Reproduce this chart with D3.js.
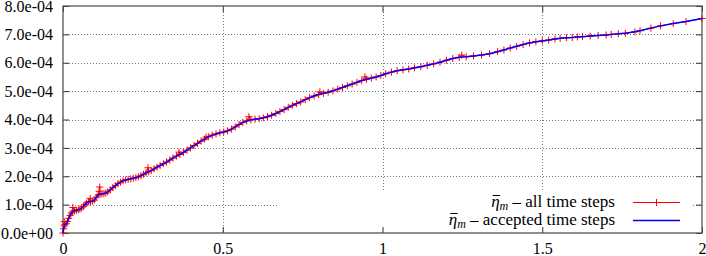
<!DOCTYPE html>
<html>
<head>
<meta charset="utf-8">
<script src="https://cdn.jsdelivr.net/npm/d3@7"></script>
<style>
  body { margin: 0; background: #fff; }
  svg text { font-family: "Liberation Serif", "DejaVu Serif", serif; fill: #000; }
</style>
</head>
<body>
<div id="graph-container"></div>
<script>
// Data (eta values in units of 1e-4)_________________________________________
const acceptedT = [0, 0.002, 0.004, 0.006, 0.010, 0.014, 0.018, 0.022, 0.026, 0.030, 0.036, 0.042, 0.048, 0.053,
  0.058, 0.064, 0.069, 0.074, 0.080, 0.086, 0.092, 0.098, 0.104, 0.110, 0.116, 0.122, 0.128, 0.134, 0.140,
  0.148, 0.156, 0.164, 0.172, 0.180, 0.188, 0.196, 0.204, 0.212, 0.220, 0.228, 0.236, 0.244, 0.252, 0.260,
  0.268, 0.276, 0.285, 0.294, 0.304, 0.314, 0.324, 0.334, 0.344, 0.355, 0.366, 0.377, 0.388, 0.399, 0.410,
  0.421, 0.432, 0.443, 0.455, 0.467, 0.479, 0.491, 0.503, 0.515, 0.527, 0.539, 0.551, 0.563, 0.575, 0.588,
  0.601, 0.614, 0.627, 0.640, 0.653, 0.666, 0.679, 0.692, 0.705, 0.718, 0.731, 0.744, 0.758, 0.772, 0.786,
  0.800, 0.815, 0.830, 0.845, 0.860, 0.875, 0.890, 0.905, 0.920, 0.935, 0.950, 0.965, 0.980, 0.995, 1.010,
  1.028, 1.046, 1.064, 1.082, 1.100, 1.120, 1.140, 1.160, 1.180, 1.200, 1.220, 1.240, 1.262, 1.285, 1.310,
  1.335, 1.360, 1.380, 1.400, 1.420, 1.440, 1.460, 1.480, 1.500, 1.520, 1.540, 1.556, 1.576, 1.594, 1.610,
  1.626, 1.650, 1.675, 1.700, 1.716, 1.738, 1.760, 1.790, 1.806, 1.840, 1.870, 1.910, 1.950, 2.000];
const acceptedV = [0, 0.15, 0.25, 0.30, 0.33, 0.40, 0.52, 0.62, 0.70, 0.75, 0.78, 0.80, 0.82, 0.84,
  0.88, 0.94, 1.00, 1.06, 1.10, 1.11, 1.12, 1.16, 1.26, 1.34, 1.37, 1.38, 1.39, 1.41, 1.45,
  1.52, 1.60, 1.67, 1.74, 1.79, 1.84, 1.87, 1.89, 1.91, 1.93, 1.95, 1.98, 2.02, 2.07, 2.12,
  2.16, 2.20, 2.26, 2.32, 2.38, 2.44, 2.50, 2.57, 2.64, 2.71, 2.77, 2.84, 2.92, 3.00, 3.08,
  3.16, 3.24, 3.31, 3.39, 3.45, 3.49, 3.53, 3.56, 3.60, 3.66, 3.74, 3.82, 3.90, 3.95, 3.99,
  4.01, 4.03, 4.06, 4.10, 4.15, 4.21, 4.28, 4.35, 4.43, 4.50, 4.56, 4.62, 4.70, 4.77, 4.83,
  4.88, 4.92, 4.96, 5.01, 5.07, 5.13, 5.19, 5.25, 5.31, 5.37, 5.42, 5.46, 5.50, 5.55, 5.61,
  5.67, 5.72, 5.75, 5.78, 5.82, 5.86, 5.91, 5.96, 6.02, 6.09, 6.15, 6.19, 6.21, 6.24, 6.27,
  6.32, 6.39, 6.45, 6.52, 6.58, 6.64, 6.70, 6.74, 6.77, 6.80, 6.84, 6.86, 6.88, 6.89, 6.91,
  6.92, 6.94, 6.96, 6.98, 7.00, 7.02, 7.04, 7.09, 7.13, 7.22, 7.30, 7.38, 7.45, 7.56];

// rejected steps (only in the "all time steps" curve)
const rejectedT = [0.004, 0.031, 0.085, 0.113, 0.115, 0.266, 0.363, 0.448, 0.582, 0.804, 0.945, 1.248];
const rejectedV = [0.40, 0.90, 1.22, 1.47, 1.62, 2.30, 2.85, 3.38, 4.10, 4.97, 5.50, 6.27];

const xTicks = [0, 0.5, 1, 1.5, 2];
const yTicks = [0, 1, 2, 3, 4, 5, 6, 7, 8];
const yTickLabels = ['0.0e+00', '1.0e-04', '2.0e-04', '3.0e-04', '4.0e-04', '5.0e-04', '6.0e-04', '7.0e-04', '8.0e-04'];
const legendLabels = ['all time steps', 'accepted time steps'];

// Variables________________________________________________
const width = 706;
const height = 256;
const margin = { left: 63, right: 4, top: 6, bottom: 23 };

const accepted = acceptedT.map((t, i) => [t, acceptedV[i]]);
const all = accepted.concat(rejectedT.map((t, i) => [t, rejectedV[i]]))
  .sort((a, b) => a[0] - b[0]);

const x = d3.scaleLinear().domain([0, 2]).range([margin.left, width - margin.right]);
const y = d3.scaleLinear().domain([0, 8]).range([height - margin.bottom, margin.top]);

const svg = d3.select('#graph-container')
  .append('svg')
  .attr('width', width)
  .attr('height', height);

// Grid________________________________________________
const grid = svg.append('g')
  .attr('stroke', '#777')
  .attr('stroke-width', 1)
  .attr('stroke-dasharray', '1,2');

grid.selectAll('.hgrid')
  .data(yTicks.slice(1, -1))
  .enter()
  .append('line')
  .attr('x1', x(0))
  .attr('x2', x(2))
  .attr('y1', d => Math.round(y(d)) + 0.5)
  .attr('y2', d => Math.round(y(d)) + 0.5);

grid.selectAll('.vgrid')
  .data(xTicks.slice(1, -1))
  .enter()
  .append('line')
  .attr('x1', d => Math.round(x(d)) + 0.5)
  .attr('x2', d => Math.round(x(d)) + 0.5)
  .attr('y1', y(8))
  .attr('y2', y(0));

// key box is opaque in the original, hides the grid behind it
svg.append('rect')
  .attr('x', 278)
  .attr('y', 192)
  .attr('width', 413)
  .attr('height', y(0) - 192)
  .attr('fill', '#fff');

// Axes________________________________________________
const xAxis = d3.axisBottom(x).tickValues(xTicks).tickSize(-6).tickPadding(10).tickFormat(d => d3.format('')(d));
const yAxis = d3.axisLeft(y).tickValues(yTicks).tickSize(-6).tickPadding(10).tickFormat((d, i) => yTickLabels[i]);

const gx = svg.append('g')
  .attr('transform', `translate(0,${y(0)})`)
  .call(xAxis);
const gy = svg.append('g')
  .attr('transform', `translate(${x(0)},0)`)
  .call(yAxis);

// mirrored ticks on top and right
svg.append('g')
  .attr('transform', `translate(0,${y(8)})`)
  .call(d3.axisTop(x).tickValues(xTicks).tickSize(-6).tickFormat(''));
svg.append('g')
  .attr('transform', `translate(${x(2)},0)`)
  .call(d3.axisRight(y).tickValues(yTicks).tickSize(-6).tickFormat(''));

svg.selectAll('.domain').remove();
svg.selectAll('.tick line').attr('stroke', '#333');
svg.selectAll('.tick text')
  .attr('font-size', 16)
  .attr('font-family', '"Liberation Serif", serif');

svg.append('rect')
  .attr('x', x(0))
  .attr('y', y(8))
  .attr('width', x(2) - x(0))
  .attr('height', y(0) - y(8))
  .attr('fill', 'none')
  .attr('stroke', '#555')
  .attr('stroke-width', 1.3);

// Lines________________________________________________
const line = d3.line().x(d => x(d[0])).y(d => y(d[1]));

svg.append('path')
  .datum(all)
  .attr('d', line)
  .attr('fill', 'none')
  .attr('stroke', '#ff0000')
  .attr('stroke-width', 1);

svg.append('g')
  .selectAll('path')
  .data(all)
  .enter()
  .append('path')
  .attr('transform', d => `translate(${x(d[0])},${y(d[1])})`)
  .attr('d', 'M-3.5,0H3.5M0,-3.5V3.5')
  .attr('stroke', '#ff0000')
  .attr('stroke-width', 1);

svg.append('path')
  .datum(accepted)
  .attr('d', line)
  .attr('fill', 'none')
  .attr('stroke', '#0000ff')
  .attr('stroke-width', 1.5);

// Legend________________________________________________
const legendColors = ['#ff0000', '#0000ff'];
const legendItem = svg.selectAll('.legend-item')
  .data(legendLabels)
  .enter()
  .append('g')
  .attr('class', 'legend-item')
  .attr('transform', (d, i) => `translate(0,${202.5 + i * 18})`);

const legendText = legendItem.append('text')
  .attr('x', 615)
  .attr('y', 4.5)
  .attr('font-size', 17)
  .attr('text-anchor', 'end');
legendText.append('tspan')
  .attr('font-style', 'italic')
  .text('η');
legendText.append('tspan')
  .attr('font-style', 'italic')
  .attr('font-size', 12)
  .attr('dy', 3)
  .text('m');
legendText.append('tspan')
  .attr('dy', -3)
  .text(d => ' – ' + d);

// overline over the eta
legendText.each(function () {
  const box = this.getExtentOfChar(0);
  d3.select(this.parentNode).append('line')
    .attr('x1', box.x + 1.5)
    .attr('x2', box.x + box.width + 0.5)
    .attr('y1', box.y + 3.5)
    .attr('y2', box.y + 3.5)
    .attr('stroke', '#000')
    .attr('stroke-width', 1);
});

legendItem.append('line')
  .attr('x1', 633)
  .attr('x2', 680)
  .attr('stroke', (d, i) => legendColors[i])
  .attr('stroke-width', (d, i) => i ? 1.5 : 1);

legendItem.filter((d, i) => i === 0)
  .append('path')
  .attr('transform', 'translate(656.5,0)')
  .attr('d', 'M-3.5,0H3.5M0,-3.5V3.5')
  .attr('stroke', '#ff0000');
</script>
</body>
</html>
